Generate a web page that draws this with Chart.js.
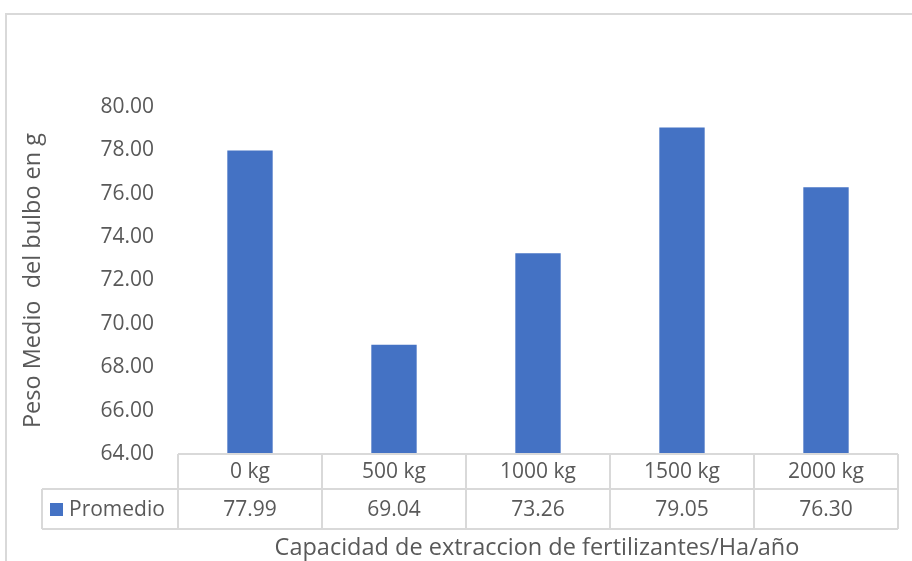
<!DOCTYPE html>
<html>
<head>
<meta charset="utf-8">
<script src="https://cdn.jsdelivr.net/npm/chart.js@4.4.1/dist/chart.umd.min.js"></script>
<style>
  html, body { margin: 0; padding: 0; background: #ffffff; }
  #wrap { width: 912px; height: 561px; position: relative; }
</style>
</head>
<body>
<div id="wrap"><canvas id="c" width="912" height="561"></canvas></div>
<script>
const categories = ["0 kg", "500 kg", "1000 kg", "1500 kg", "2000 kg"];
const promedio = [77.99, 69.04, 73.26, 79.05, 76.30];
const seriesName = "Promedio";
const yMin = 64, yMax = 80, yStep = 2;
const yTitle = "Peso Medio  del bulbo en g";
const xTitle = "Capacidad de extraccion de fertilizantes/Ha/año";

const FONT = "'Open Sans', 'Noto Sans', sans-serif";
const TXT = "#595959";
const LINE = "#d9d9d9";
const BAR = "#4472C4";

const tablePlugin = {
  id: "dataTable",
  afterDraw(chart) {
    const ctx = chart.ctx;
    const xs = chart.scales.x;
    const ca = chart.chartArea;
    const n = categories.length;
    const step = xs.getPixelForValue(1) - xs.getPixelForValue(0);
    const left = xs.getPixelForValue(0) - step / 2;
    const right = xs.getPixelForValue(n - 1) + step / 2;
    const r0 = ca.bottom, r1 = r0 + 35, r2 = r1 + 40;
    const legendLeft = 42;
    ctx.save();
    // outer frame
    ctx.strokeStyle = LINE;
    ctx.lineWidth = 2;
    ctx.beginPath();
    ctx.moveTo(6, 561); ctx.lineTo(6, 14); ctx.lineTo(912, 14);
    ctx.stroke();
    // table lines
    ctx.lineWidth = 2;
    ctx.beginPath();
    ctx.moveTo(left, r0); ctx.lineTo(right, r0);
    ctx.moveTo(legendLeft, r1); ctx.lineTo(right, r1);
    ctx.moveTo(legendLeft, r2); ctx.lineTo(right, r2);
    ctx.moveTo(legendLeft, r1); ctx.lineTo(legendLeft, r2);
    for (let i = 0; i <= n; i++) {
      const x = left + i * step;
      ctx.moveTo(x, r0); ctx.lineTo(x, r2);
    }
    ctx.stroke();
    // texts
    ctx.fillStyle = TXT;
    ctx.font = "21px " + FONT;
    ctx.textAlign = "center";
    ctx.textBaseline = "middle";
    for (let i = 0; i < n; i++) {
      const cx = xs.getPixelForValue(i);
      ctx.fillText(categories[i], cx, (r0 + r1) / 2 + 1);
      ctx.fillText(promedio[i].toFixed(2), cx, (r1 + r2) / 2 + 1);
    }
    // legend key
    ctx.fillStyle = BAR;
    ctx.fillRect(50, (r1 + r2) / 2 - 6, 13, 13);
    ctx.fillStyle = TXT;
    ctx.textAlign = "left";
    ctx.fillText(seriesName, 69, (r1 + r2) / 2 + 1);
    // x title
    ctx.textAlign = "center";
    ctx.font = "23.5px " + FONT;
    ctx.fillText(xTitle, 537, 548);
    ctx.restore();
  }
};

new Chart(document.getElementById("c"), {
  type: "bar",
  data: {
    labels: categories,
    datasets: [{
      label: seriesName,
      data: promedio,
      backgroundColor: BAR,
      borderWidth: 0,
      categoryPercentage: 1,
      barPercentage: 0.315
    }]
  },
  options: {
    responsive: false,
    animation: false,
    devicePixelRatio: 1,
    layout: { padding: { left: 0, top: 107, right: 14, bottom: 107 } },
    plugins: { legend: { display: false }, tooltip: { enabled: false } },
    scales: {
      x: { display: false },
      y: {
        min: yMin, max: yMax,
        grid: { display: false, drawTicks: false },
        border: { display: false },
        ticks: {
          stepSize: yStep,
          color: TXT,
          padding: 24,
          font: { family: FONT, size: 21 },
          callback: v => Number(v).toFixed(2)
        },
        title: {
          display: true,
          text: yTitle,
          color: TXT,
          font: { family: FONT, size: 23.5 },
          padding: { top: 19, bottom: 0 }
        },
        afterFit(scale) { scale.width = 178; }
      }
    }
  },
  plugins: [tablePlugin]
});
</script>
</body>
</html>
